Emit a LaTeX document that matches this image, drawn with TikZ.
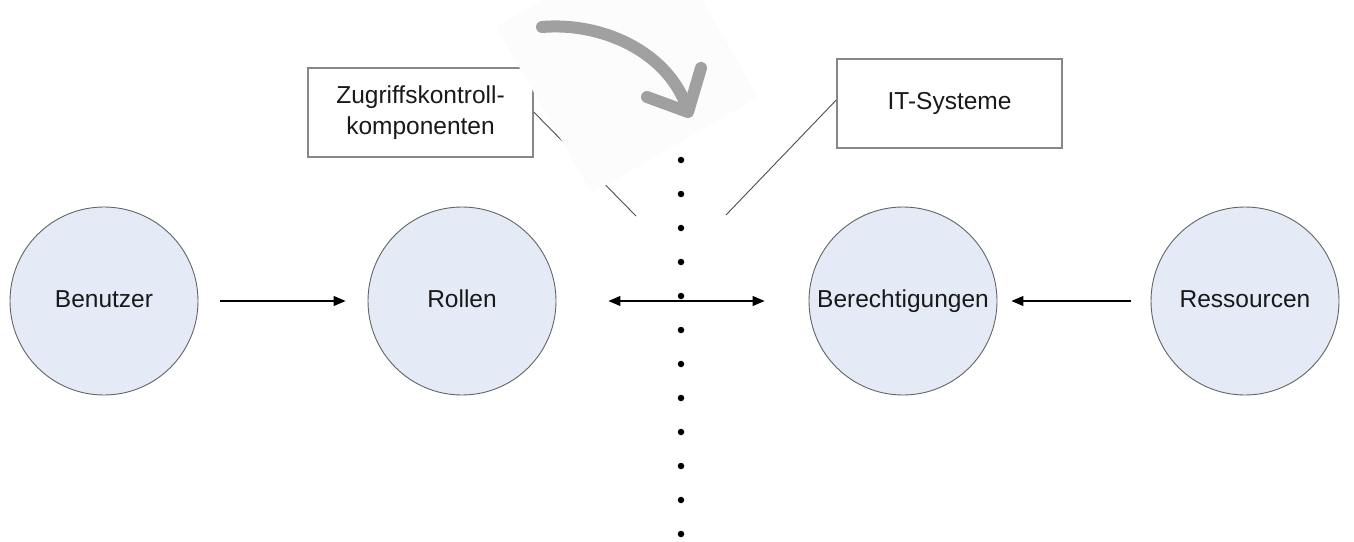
\documentclass[tikz,border=0pt]{standalone}
\usepackage{fontspec}
\setmainfont{Liberation Sans}
\usetikzlibrary{arrows.meta}
\definecolor{circfill}{RGB}{228,234,246}
\definecolor{circline}{RGB}{100,100,100}
\definecolor{boxline}{RGB}{135,135,135}
\definecolor{txt}{RGB}{25,25,25}
\definecolor{sheet}{RGB}{252,252,252}
\definecolor{swoosh}{RGB}{160,160,160}
\tikzset{
  entity/.style={circle, draw=circline, line width=0.9pt, fill=circfill,
    minimum size=188pt, inner sep=0pt, text=txt, text height=18pt, text depth=5pt,
    font=\fontsize{24.5}{30}\selectfont},
  labelbox/.style={draw=boxline, line width=1.5pt, fill=white,
    minimum width=225pt, minimum height=89pt, inner sep=0pt, align=center,
    text=txt, font=\fontsize{24.5}{31}\selectfont},
  flow/.style={line width=1.1pt, -{Triangle[length=12pt,width=10pt]}},
  twoway/.style={line width=1.1pt, {Triangle[length=12pt,width=10pt]}-{Triangle[length=12pt,width=10pt]}},
  leader/.style={line width=0.9pt, draw=black!70},
  sepdot/.style={circle, fill=black, inner sep=0pt, minimum size=6.5pt},
}
\begin{document}
\begin{tikzpicture}[x={(1pt,0)}, y={(0,-1pt)}]
  \useasboundingbox (0,0) rectangle (1354,541);

  % the four entities
  \node[entity] (ben) at (104,301) {Benutzer};
  \node[entity] (rol) at (462,301) {Rollen};
  \node[entity] (ber) at (903,301) {Berechtigungen};
  \node[entity] (res) at (1245,301) {Ressourcen};

  % relations between them
  \draw[flow, shorten <=22pt, shorten >=22pt] (ben) -- (rol);
  \draw[twoway, shorten <=52pt, shorten >=44pt] (rol) -- (ber);
  \draw[flow, shorten <=20pt, shorten >=14pt] (res) -- (ber);

  % dotted separator
  \foreach \k in {0,...,11}
    \node[sepdot] (dot\k) at (681,{160+34*\k}) {};

  % labels with leader lines
  \node[labelbox] (zk) at (420.5,112.5) {Zugriffskontroll-\\komponenten};
  \node[labelbox] (its) at (949.5,103.5) {IT-Systeme};
  \coordinate (zkend) at (636,216);
  \coordinate (itsend) at (726,215);
  \draw[leader] ([yshift=0.5pt]zk.east) -- (zkend);
  \draw[leader] ([yshift=3.5pt]its.west) -- (itsend);

  % pasted sheet carrying the curved arrow
  \fill[sheet] (591.9,193.1) -- (758.2,97.1) -- (662.2,-69.2) -- (495.9,26.8) -- cycle;
  \draw[swoosh, line width=12pt, line cap=round]
    (542,27) .. controls (600,22) and (665,50) .. (686,105);
  \draw[swoosh, line width=12pt, line cap=round, line join=round]
    (647,97) -- (688,112) -- (701,68);
\end{tikzpicture}
\end{document}
